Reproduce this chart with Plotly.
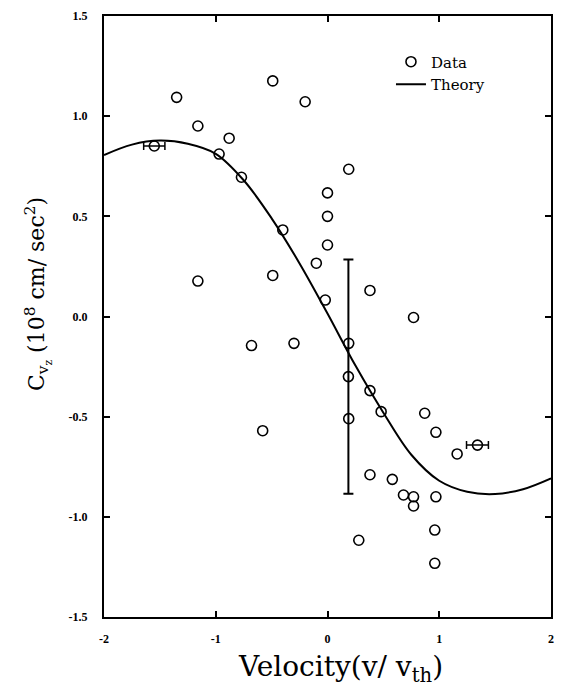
import plotly.graph_objects as go

# Measured acceleration coefficient vs. normalized velocity
vel = [-1.35, -1.16, -1.16, -0.97, -0.88, -0.77, -0.68, -0.58, -0.49, -0.49,
       -0.40, -0.30, -0.20, -0.10, 0.0, 0.0, 0.0, -0.02, 0.19, 0.19,
       0.19, 0.38, 0.38, 0.48, 0.77, 0.87, 0.97, 1.16, 0.38, 0.58,
       0.68, 0.77, 0.77, 0.97, 0.28, 0.96, 0.96]
cvz = [1.094, 0.951, 0.177, 0.811, 0.89, 0.695, -0.145, -0.57, 1.176, 0.205,
       0.432, -0.134, 1.072, 0.266, 0.617, 0.50, 0.357, 0.082, 0.735, -0.134,
       -0.51, 0.13, -0.37, -0.475, -0.005, -0.483, -0.578, -0.686, -0.79, -0.813,
       -0.891, -0.90, -0.946, -0.90, -1.117, -1.066, -1.232]

# Points carrying error bars
vbar_x = [0.187]
vbar_y = [-0.30]
vbar_err = [0.585]
hbar_x = [-1.55, 1.342]
hbar_y = [0.851, -0.642]
hbar_err = [0.095, 0.098]

# Theory curve samples
theory_v = [-2.0, -1.75, -1.5, -1.25, -1.0, -0.75, -0.5, -0.25, 0.0,
            0.25, 0.5, 0.75, 1.0, 1.25, 1.5, 1.75, 2.0]
theory_c = [0.806, 0.858, 0.878, 0.862, 0.812, 0.68, 0.49, 0.265, 0.015,
            -0.245, -0.48, -0.69, -0.82, -0.875, -0.886, -0.862, -0.808]

x_ticks = [-2, -1, 0, 1, 2]
y_ticks = [-1.5, -1.0, -0.5, 0.0, 0.5, 1.0, 1.5]

TICK_FONT = "Liberation Serif"
LABEL_FONT = "DejaVu Serif"
marker_style = dict(symbol="circle-open", size=10, color="black", line=dict(width=1.6))

fig = go.Figure()
fig.add_trace(go.Scatter(x=vel, y=cvz, mode="markers", name="Data",
                         marker=marker_style))
fig.add_trace(go.Scatter(x=theory_v, y=theory_c, mode="lines", name="Theory",
                         line=dict(color="black", width=2, shape="spline", smoothing=1.0)))
fig.add_trace(go.Scatter(x=vbar_x, y=vbar_y, mode="markers", showlegend=False,
                         marker=marker_style,
                         error_y=dict(type="data", array=vbar_err, color="black",
                                      thickness=2, width=5)))
fig.add_trace(go.Scatter(x=hbar_x, y=hbar_y, mode="markers", showlegend=False,
                         marker=marker_style,
                         error_x=dict(type="data", array=hbar_err, color="black",
                                      thickness=1.5, width=4)))

axis_common = dict(showline=True, linecolor="black", linewidth=2, mirror="allticks",
                   ticks="inside", ticklen=6, tickwidth=1.5, tickcolor="black",
                   showgrid=False, zeroline=False,
                   tickfont=dict(family=TICK_FONT, size=12, color="black", weight="bold"))

fig.update_xaxes(range=[-2, 2], tickvals=x_ticks, ticktext=[str(t) for t in x_ticks],
                 ticklabelstandoff=10, **axis_common)
fig.update_yaxes(range=[-1.5, 1.5], tickvals=y_ticks,
                 ticktext=[f"{t:.1f}" for t in y_ticks],
                 ticklabelstandoff=12, **axis_common)

fig.add_annotation(text="Velocity(v/ v<sub>th</sub>)", xref="paper", yref="paper",
                   x=0.53, y=-0.052, xanchor="center", yanchor="top", showarrow=False,
                   font=dict(family=LABEL_FONT, size=28, color="black"))
fig.add_annotation(text="C<sub>v<sub>z</sub></sub> (10<sup>8</sup> cm/ sec<sup>2</sup>)",
                   xref="paper", yref="paper", x=-0.148, y=0.537,
                   xanchor="center", yanchor="middle", textangle=-90, showarrow=False,
                   font=dict(family=LABEL_FONT, size=22, color="black"))

fig.update_layout(
    width=563, height=694,
    margin=dict(l=104, r=9, t=16, b=77),
    paper_bgcolor="white", plot_bgcolor="white",
    font=dict(family=LABEL_FONT, color="black"),
    showlegend=True,
    legend=dict(x=0.642, y=0.951, xanchor="left", yanchor="top",
                bgcolor="rgba(0,0,0,0)", borderwidth=0,
                font=dict(family=LABEL_FONT, size=15, color="black"),
                tracegroupgap=0),
)

fig.write_html("out.html")
